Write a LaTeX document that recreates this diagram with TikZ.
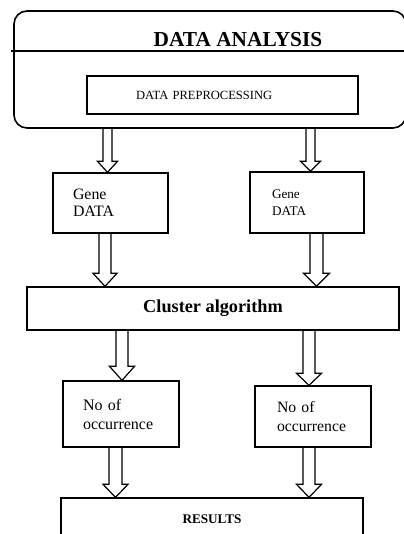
\documentclass[tikz,border=0pt]{standalone}
\usepackage{fontspec}
\setmainfont{Liberation Serif}
\usetikzlibrary{calc}

\newdimen\pxu \pxu=0.75pt
\newcommand{\fsz}[2]{\fontsize{#1}{#2}\selectfont}
\newcommand{\blockarrow}[6]{%
	\draw[arrowline] ($(#1,0 |- #2.south)+(-#4,0)$) -- ($(#1,0 |- #3.north)+(-#4,-#6)$)
		-- ($(#1,0 |- #3.north)+(-#5,-#6)$) -- (#1,0 |- #3.north)
		-- ($(#1,0 |- #3.north)+(#5,-#6)$) -- ($(#1,0 |- #3.north)+(#4,-#6)$)
		-- ($(#1,0 |- #2.south)+(#4,0)$);}

\tikzset{
	databox/.style={draw, line width=1pt, inner sep=0pt},
	leftbox/.style={databox, align=left},
	arrowline/.style={draw, line width=0.9pt},
}

\begin{document}
\begin{tikzpicture}[x=0.75pt, y=-0.75pt]
		\useasboundingbox (0,0) rectangle (403,534);
		\node[databox, line width=1.2pt, rounded corners=13\pxu, minimum width=392\pxu, minimum height=117\pxu] (analysis) at (210,69.5) {};
		\draw[line width=1.2pt] ($(analysis.west |- 0,51)+(-2,0)$) -- (analysis.east |- 0,51);
		\node[font={\bfseries\fsz{16}{18}}] (title) at (238,40) {DATA ANALYSIS};
		\node[leftbox, text width=173\pxu, inner xsep=49\pxu, minimum height=38\pxu, font={\fsz{9.4}{11}}] (prep) at (222.5,95) {DATA PREPROCESSING};
		\node[leftbox, text width=75\pxu, inner xsep=20\pxu, minimum height=60\pxu, font={\fsz{11.9}{12.75}}] (gene1) at (110.5,203) {Gene\\DATA};
		\node[leftbox, text width=70\pxu, inner xsep=22\pxu, minimum height=61\pxu, font={\fsz{9.9}{12.75}}] (gene2) at (307,202.5) {Gene\\DATA};
		\node[databox, minimum width=372\pxu, minimum height=43\pxu, font={\bfseries\fsz{13.7}{16}}] (cluster) at (213,308.5) {Cluster algorithm};
		\node[leftbox, text width=76\pxu, inner xsep=20\pxu, minimum height=66\pxu, font={\fsz{12}{14.25}}] (occ1) at (121,414) {No of\\occurrence};
		\node[leftbox, text width=72\pxu, inner xsep=22\pxu, minimum height=61\pxu, font={\fsz{11.8}{14.25}}] (occ2) at (313,416.5) {No of\\occurrence};
		\node[databox, minimum width=302\pxu, minimum height=42\pxu, font={\bfseries\fsz{9.9}{12}}] (results) at (212,519) {RESULTS};
		\blockarrow{107.5}{analysis}{gene1}{4.5}{10}{11}
		\blockarrow{310.5}{analysis}{gene2}{4.5}{10}{10}
		\blockarrow{105}{gene1}{cluster}{6}{12}{13}
		\blockarrow{316.5}{gene2}{cluster}{6.5}{13}{13}
		\blockarrow{122}{cluster}{occ1}{6}{12.5}{14}
		\blockarrow{309}{cluster}{occ2}{6}{12.5}{12}
		\blockarrow{115.5}{occ1}{results}{6.5}{12.5}{13}
		\blockarrow{309}{occ2}{results}{6}{12.5}{13}
	\end{tikzpicture}
\end{document}
